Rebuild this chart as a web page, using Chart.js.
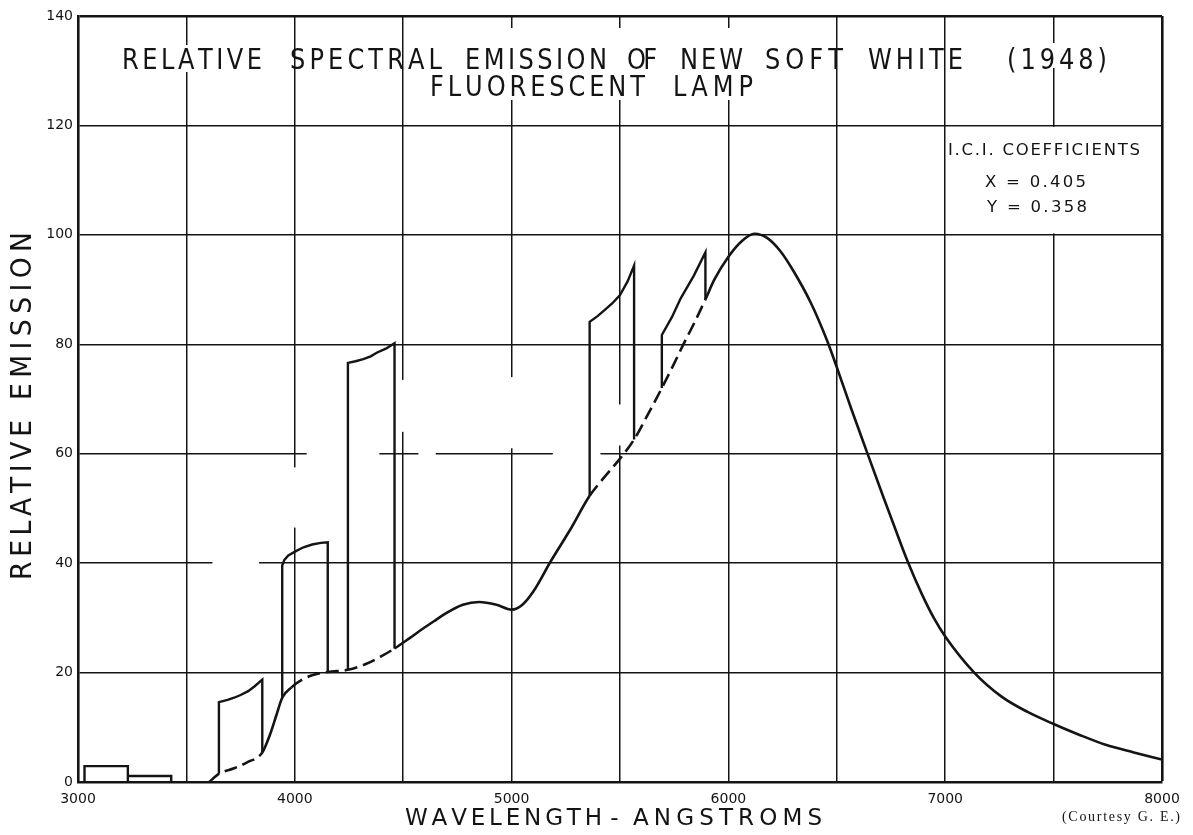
<!DOCTYPE html>
<html>
<head>
<meta charset="utf-8">
<title>Relative Spectral Emission of New Soft White (1948) Fluorescent Lamp</title>
<script src="https://cdn.jsdelivr.net/npm/chart.js@4.4.0/dist/chart.umd.min.js"></script>
<style>
  html, body { margin: 0; padding: 0; background: #ffffff; }
  #wrap { width: 1193px; height: 835px; }
  canvas { display: block; }
</style>
</head>
<body>
<div id="wrap"><canvas id="spectrum" width="1193" height="835"></canvas></div>
<script>
// ---- Phosphor continuum: relative emission vs wavelength (Angstroms) ----
const continuumWavelength = [
  3605, 3650, 3720, 3780, 3850, 3885, 3915, 3942, 3985, 4030,
  4080, 4152, 4245, 4330, 4400, 4460, 4530, 4590, 4650, 4700,
  4775, 4850, 4930, 5000, 5050, 5100, 5180, 5270, 5360, 5430,
  5500, 5565, 5625, 5693, 5745, 5790, 5845, 5894, 5935, 6000,
  6060, 6120, 6180, 6240, 6300, 6380, 6456, 6500, 6565, 6640,
  6710, 6760, 6826, 6894, 6950, 7000, 7136, 7260, 7380, 7500,
  7620, 7740, 7870, 8000
];
const continuumEmission = [
  0.0, 1.5, 2.5, 3.6, 5.4, 8.6, 12.2, 15.4, 17.3, 18.6,
  19.5, 20.1, 20.5, 21.6, 23.0, 24.4, 26.3, 28.0, 29.6, 30.9,
  32.4, 32.9, 32.4, 31.5, 32.4, 34.8, 40.3, 46.1, 52.3, 55.8,
  59.1, 62.6, 66.9, 72.0, 76.1, 79.8, 84.1, 88.2, 91.8, 96.0,
  98.8, 100.2, 99.4, 97.0, 93.4, 87.6, 80.6, 75.8, 68.4, 60.2,
  52.6, 47.3, 40.4, 34.2, 29.8, 26.6, 19.9, 15.6, 12.8, 10.6,
  8.6, 6.8, 5.4, 4.1
];
// Stretches of the continuum hidden under a mercury band (drawn dashed)
const dashedRanges = [[3605, 3850], [3985, 4460], [5360, 5894]];

// ---- Ultraviolet mercury lines, drawn as blocks on the baseline ----
const uvBlockEdges = [3030, 3230, 3430];
const uvBlockHeights = [2.9, 1.1];

// ---- Mercury line bands: wavelength samples and emission along the top edge ----
const band3650Wavelength = [3650, 3690, 3720, 3750, 3785, 3815, 3850];
const band3650Top        = [14.6, 15.0, 15.4, 15.9, 16.6, 17.5, 18.7];
const band4047Wavelength = [3942, 3952, 3970, 4005, 4040, 4080, 4120, 4152];
const band4047Top        = [39.6, 40.6, 41.4, 42.2, 42.9, 43.4, 43.7, 43.8];
const band4358Wavelength = [4245, 4280, 4316, 4350, 4380, 4420, 4460];
const band4358Top        = [76.6, 76.9, 77.3, 77.8, 78.5, 79.2, 80.2];
const band5461Wavelength = [5360, 5395, 5430, 5465, 5500, 5535, 5565];
const band5461Top        = [84.1, 85.1, 86.3, 87.5, 89.0, 91.5, 94.4];
const band5780Wavelength = [5693, 5740, 5780, 5840, 5894];
const band5780Top        = [81.7, 85.0, 88.4, 92.5, 96.8];

// ---- Axes ----
const wavelengthLabels = [3000, 4000, 5000, 6000, 7000, 8000];
const emissionTicks = [0, 20, 40, 60, 80, 100, 120, 140];

// ---- Text ----
const titleLine1 = 'RELATIVE SPECTRAL EMISSION OF NEW SOFT WHITE (1948)';
const titleLine2 = 'FLUORESCENT LAMP';
const coefficientLines = ['I.C.I. COEFFICIENTS', 'X = 0.405', 'Y = 0.358'];
const xAxisTitle = 'WAVELENGTH - ANGSTROMS';
const yAxisTitle = 'RELATIVE EMISSION';
const creditText = '(Courtesy G. E.)';

// ---------------------------------------------------------------------
const INK = '#141414';
const LETTER_FONT = '"DejaVu Sans", "Liberation Sans", sans-serif';

function continuumAt(wl) {
  const i = continuumWavelength.indexOf(wl);
  return continuumEmission[i];
}
function bandPoints(wls, tops) {
  const pts = [{ x: wls[0], y: continuumAt(wls[0]) }];
  wls.forEach((w, i) => pts.push({ x: w, y: tops[i] }));
  const last = wls[wls.length - 1];
  pts.push({ x: last, y: continuumAt(last) });
  return pts;
}
function inDashed(a, b) {
  return dashedRanges.some(([lo, hi]) => a >= lo && b <= hi);
}

const continuumData = continuumWavelength.map((w, i) => ({ x: w, y: continuumEmission[i] }));
const uvData = [
  { x: uvBlockEdges[0], y: 0 }, { x: uvBlockEdges[0], y: uvBlockHeights[0] },
  { x: uvBlockEdges[1], y: uvBlockHeights[0] }, { x: uvBlockEdges[1], y: 0 },
  { x: uvBlockEdges[1], y: uvBlockHeights[1] }, { x: uvBlockEdges[2], y: uvBlockHeights[1] },
  { x: uvBlockEdges[2], y: 0 }
];

const bandStyle = {
  borderColor: INK, borderWidth: 2.4, pointRadius: 0, tension: 0,
  fill: false, borderJoinStyle: 'miter'
};

// Title split into words, each laid out between two x positions (px) on a baseline
const titleLayout = [
  { baseline: 69, words: [['RELATIVE', 122, 262], ['SPECTRAL', 290, 442], ['EMISSION', 465, 607],
                          ['OF', 627, 657], ['NEW', 680, 743], ['SOFT', 765, 843],
                          ['WHITE', 868, 963], ['(1948)', 1007, 1107]] },
  { baseline: 96, words: [['FLUORESCENT', 430, 645], ['LAMP', 673, 753]] }
];
// White paper areas behind the title lettering (px)
const titleBackdrops = [[115, 45, 150, 27], [420, 28, 340, 72], [1000, 43, 115, 25]];
// Places where the ruled grid was lettered over and left blank (data units)
const gridBlanks = [
  [3620, 3835, 42.0, 39.0], [3960, 4025, 57.5, 46.5], [4055, 4390, 61.5, 58.9],
  [4425, 4505, 73.5, 64.0], [4570, 4650, 61.5, 58.9], [4960, 5035, 74.0, 61.0],
  [5190, 5410, 61.5, 58.9], [5455, 5540, 69.0, 61.5]
];

function drawSpaced(ctx, text, x0, x1, baseline, size, family, hScale) {
  ctx.save();
  ctx.font = size + 'px ' + family;
  ctx.textBaseline = 'alphabetic';
  ctx.textAlign = 'left';
  ctx.fillStyle = INK;
  const chars = Array.from(text);
  const widths = chars.map(c => ctx.measureText(c).width * hScale);
  const total = widths.reduce((a, b) => a + b, 0);
  const gap = chars.length > 1 ? ((x1 - x0) - total) / (chars.length - 1) : 0;
  let x = chars.length > 1 ? x0 : (x0 + x1) / 2 - total / 2;
  chars.forEach((c, i) => {
    ctx.save();
    ctx.translate(x, baseline);
    ctx.scale(hScale, 1);
    ctx.fillText(c, 0, 0);
    ctx.restore();
    x += widths[i] + gap;
  });
  ctx.restore();
}

const paperPlugin = {
  id: 'paper',
  beforeDatasetsDraw(chart) {
    const { ctx, scales: { x, y } } = chart;
    ctx.save();
    ctx.fillStyle = '#ffffff';
    gridBlanks.forEach(([w0, w1, v0, v1]) => {
      const px0 = x.getPixelForValue(w0), px1 = x.getPixelForValue(w1);
      const py0 = y.getPixelForValue(v0), py1 = y.getPixelForValue(v1);
      ctx.fillRect(px0, py0, px1 - px0, py1 - py0);
    });
    titleBackdrops.forEach(([bx, by, bw, bh]) => ctx.fillRect(bx, by, bw, bh));
    // coefficient note sits on a cleared panel between 7000 and 8000 A, 100 to 120
    const l = x.getPixelForValue(7000) + 1.5, r = x.getPixelForValue(8000) - 2;
    const t = y.getPixelForValue(120) + 1.5, b = y.getPixelForValue(100) - 1.5;
    ctx.fillRect(l, t, r - l, b - t);
    ctx.restore();
  },
  afterDraw(chart) {
    const ctx = chart.ctx;
    // title
    titleLayout.forEach(line => {
      line.words.forEach(([word, x0, x1]) =>
        drawSpaced(ctx, word, x0, x1, line.baseline, 28, LETTER_FONT, 0.86));
    });
    // I.C.I. coefficients note
    drawSpaced(ctx, coefficientLines[0], 948, 1140, 155, 16.5, LETTER_FONT, 1);
    drawSpaced(ctx, coefficientLines[1], 985, 1086, 187, 16.5, LETTER_FONT, 1);
    drawSpaced(ctx, coefficientLines[2], 987, 1087, 212, 16.5, LETTER_FONT, 1);
    // x axis title
    const xt = xAxisTitle.split(' ');
    drawSpaced(ctx, xt[0], 405, 602, 825, 23.5, LETTER_FONT, 0.98);
    drawSpaced(ctx, xt[1], 609, 620, 825, 23.5, LETTER_FONT, 0.98);
    drawSpaced(ctx, xt[2], 633, 822, 825, 23.5, LETTER_FONT, 0.98);
    // y axis title, reading upward (rotated frame: x' = -screen y)
    ctx.save();
    ctx.rotate(-Math.PI / 2);
    const yt = yAxisTitle.split(' ');
    drawSpaced(ctx, yt[0], -580, -420, 31, 28, LETTER_FONT, 0.95);
    drawSpaced(ctx, yt[1], -400, -232, 31, 28, LETTER_FONT, 0.95);
    ctx.restore();
    // credit line
    drawSpaced(ctx, creditText, 1062, 1180, 821, 14, '"Liberation Serif", "DejaVu Serif", serif', 1);
  }
};

const ctx = document.getElementById('spectrum').getContext('2d');
new Chart(ctx, {
  type: 'line',
  data: {
    datasets: [
      {
        label: 'Continuum',
        data: continuumData,
        borderColor: INK, borderWidth: 2.6, pointRadius: 0,
        cubicInterpolationMode: 'monotone', fill: false,
        segment: {
          borderDash: c => inDashed(c.p0.parsed.x, c.p1.parsed.x) ? [13, 6] : undefined
        }
      },
      Object.assign({ label: 'Hg UV lines', data: uvData }, bandStyle),
      Object.assign({ label: 'Hg 3650', data: bandPoints(band3650Wavelength, band3650Top) }, bandStyle),
      Object.assign({ label: 'Hg 4047', data: bandPoints(band4047Wavelength, band4047Top) }, bandStyle),
      Object.assign({ label: 'Hg 4358', data: bandPoints(band4358Wavelength, band4358Top) }, bandStyle),
      Object.assign({ label: 'Hg 5461', data: bandPoints(band5461Wavelength, band5461Top) }, bandStyle),
      Object.assign({ label: 'Hg 5780', data: bandPoints(band5780Wavelength, band5780Top) }, bandStyle)
    ]
  },
  options: {
    responsive: false,
    animation: false,
    devicePixelRatio: 1,
    layout: { padding: { top: 16, right: 31, left: 0, bottom: 0 } },
    plugins: { legend: { display: false }, tooltip: { enabled: false }, title: { display: false } },
    scales: {
      x: {
        type: 'linear', min: 3000, max: 8000,
        afterFit: s => { s.height = 53; },
        border: { display: true, color: INK, width: 2.6 },
        grid: {
          color: INK, drawTicks: false,
          lineWidth: c => (c.tick && c.tick.value === 8000) ? 2.6 : 1.5
        },
        ticks: {
          stepSize: 500, autoSkip: false, maxRotation: 0, padding: 9, color: INK,
          font: { family: LETTER_FONT, size: 14 },
          callback: v => wavelengthLabels.includes(v) ? String(v) : ''
        }
      },
      y: {
        min: 0, max: 140,
        afterFit: s => { s.width = 78; },
        border: { display: true, color: INK, width: 2.6 },
        grid: {
          color: INK, drawTicks: false,
          lineWidth: c => (c.tick && c.tick.value === 140) ? 2.6 : 1.5
        },
        afterBuildTicks: s => { s.ticks = emissionTicks.map(v => ({ value: v })); },
        ticks: {
          padding: 5, color: INK,
          font: { family: LETTER_FONT, size: 14 },
          callback: v => String(v)
        }
      }
    }
  },
  plugins: [paperPlugin]
});
</script>
</body>
</html>
